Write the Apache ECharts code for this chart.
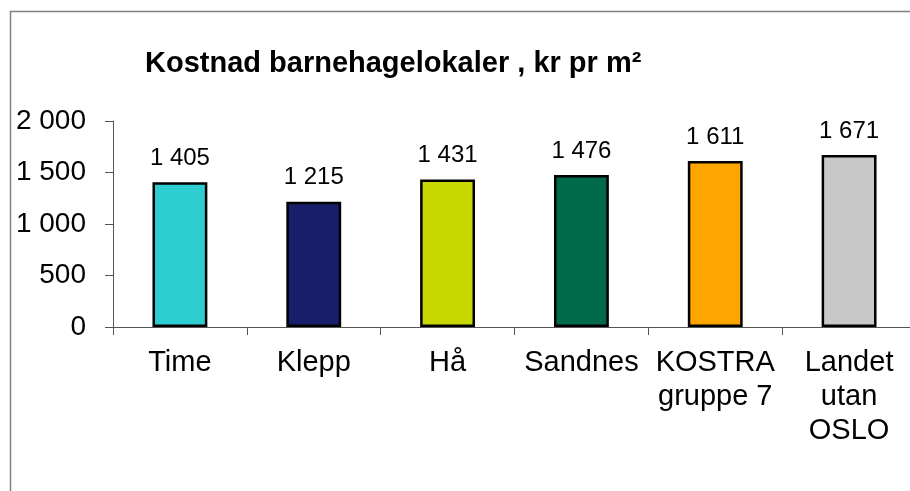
<!DOCTYPE html>
<html>
<head>
<meta charset="utf-8">
<script src="https://cdn.jsdelivr.net/npm/echarts@6/dist/echarts.min.js"></script>
<style>
  html, body { margin: 0; padding: 0; background: #fff; overflow: hidden; }
  #chart { width: 916px; height: 491px; }
</style>
</head>
<body>
<div id="chart"></div>
<script>
// data
const categories = ['Time', 'Klepp', 'Hå', 'Sandnes', 'KOSTRA\ngruppe 7', 'Landet\nutan\nOSLO']
const values = [1405, 1215, 1431, 1476, 1611, 1671]
const barColors = ['#2ECDD2', '#171F6B', '#C6D800', '#006A4A', '#FFA500', '#C8C8C8']
const yTicks = { min: 0, max: 2000, interval: 500 }

// 千位分隔 (space)
const fmt = v => String(v).replace(/\B(?=(\d{3})+(?!\d))/g, ' ')

const chart = echarts.init(document.getElementById('chart'))

chart.setOption({
  animation: false,
  backgroundColor: '#fff',
  textStyle: { fontFamily: 'Liberation Sans, Arial, sans-serif' },
  title: {
    text: 'Kostnad barnehagelokaler , kr pr m²',
    left: 140,
    top: 44,
    textStyle: { fontSize: 29, fontWeight: 'bold', color: '#000', fontFamily: 'Liberation Sans, Arial, sans-serif' }
  },
  graphic: [{
    type: 'rect',
    shape: { x: 10.5, y: 11.5, width: 950, height: 600 },
    style: { fill: 'none', stroke: '#808080', lineWidth: 1.5 },
    silent: true
  }],
  grid: { left: 113, right: 0, top: 121, bottom: 164 },
  xAxis: {
    type: 'category',
    data: categories,
    axisLine: { lineStyle: { color: '#555', width: 1 } },
    axisTick: { show: true, length: 8, lineStyle: { color: '#555' } },
    axisLabel: { color: '#000', fontSize: 29, lineHeight: 34, margin: 19, interval: 0 }
  },
  yAxis: {
    type: 'value',
    min: yTicks.min,
    max: yTicks.max,
    interval: yTicks.interval,
    splitLine: { show: false },
    axisLine: { show: true, lineStyle: { color: '#555', width: 1 } },
    axisTick: { show: true, length: 8, lineStyle: { color: '#555' } },
    axisLabel: { color: '#000', fontSize: 28, margin: 27, formatter: fmt }
  },
  series: [{
    type: 'bar',
    barWidth: '41%',
    data: values.map((v, i) => ({
      value: v,
      itemStyle: { color: barColors[i], borderColor: '#000', borderWidth: 2.5 }
    })),
    label: {
      show: true,
      position: 'top',
      distance: 12,
      color: '#000',
      fontSize: 24,
      formatter: p => fmt(p.value)
    }
  }]
})
</script>
</body>
</html>
